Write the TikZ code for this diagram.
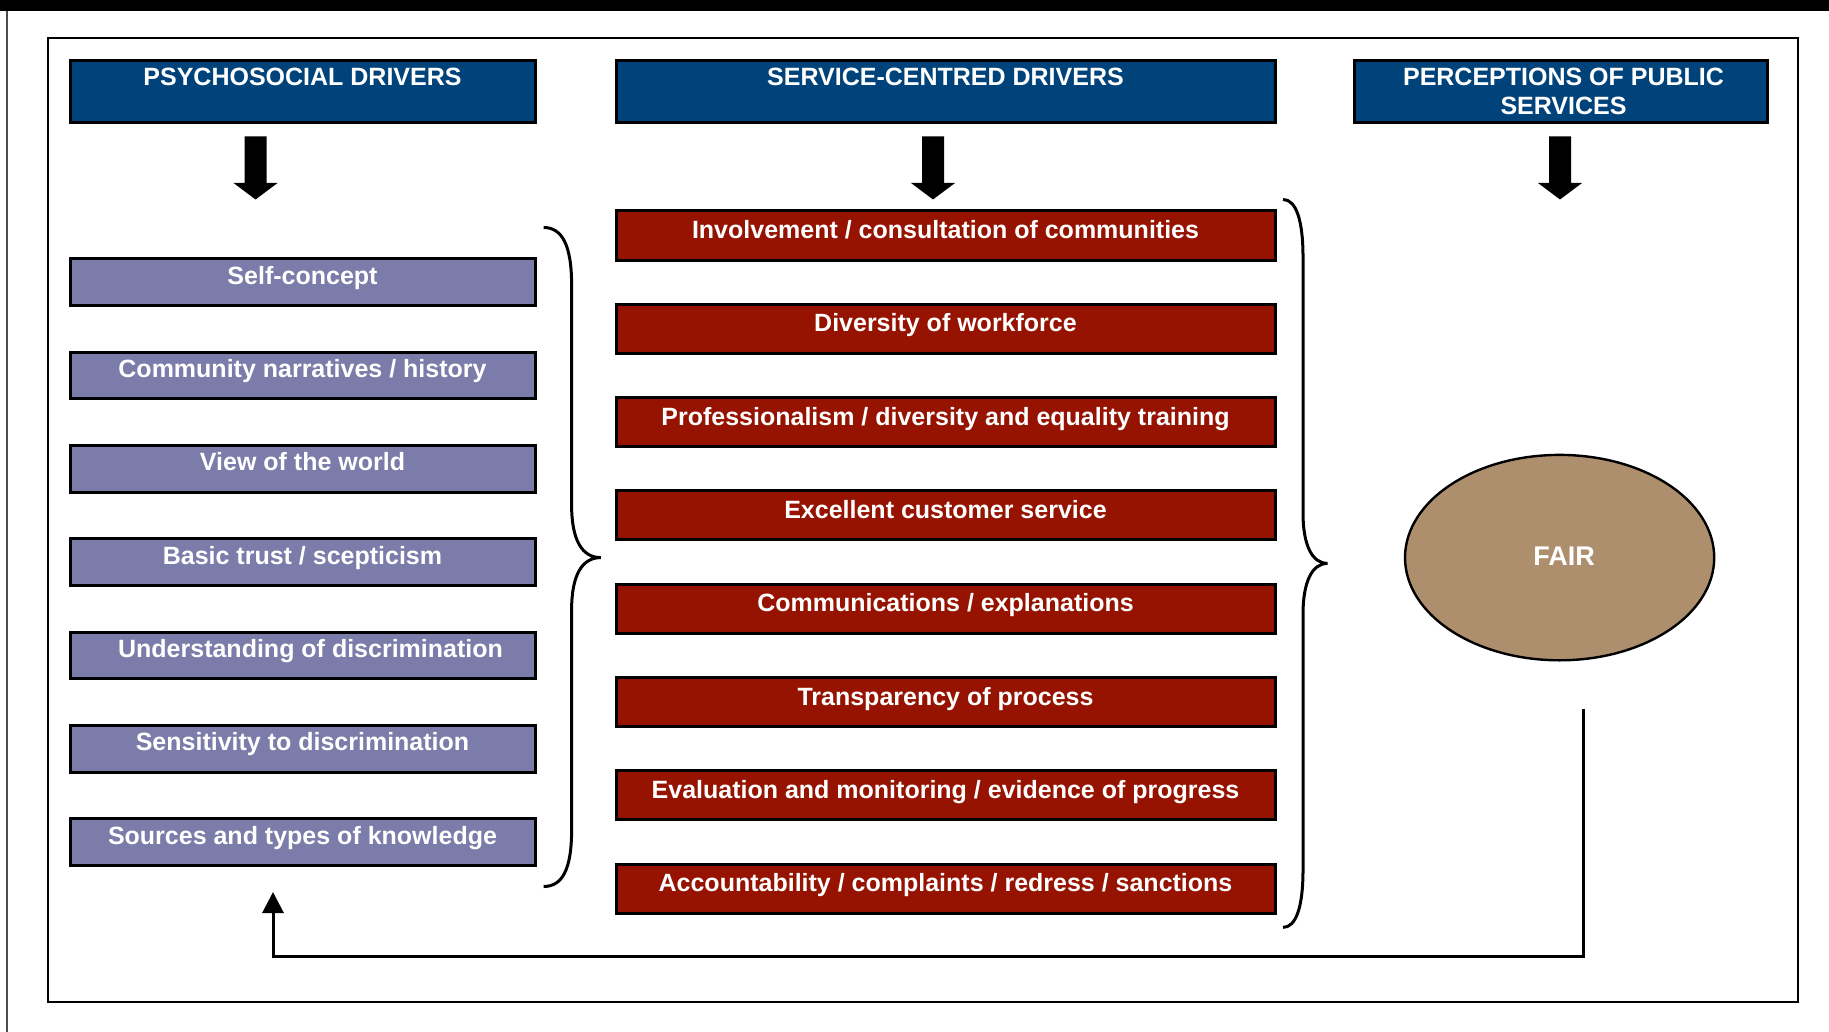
\documentclass[tikz,border=0pt]{standalone}
\usepackage{fontspec}
\setmainfont{Liberation Sans}
\usetikzlibrary{arrows.meta,shapes.geometric}
\definecolor{headblue}{RGB}{0,67,122}
\definecolor{psychpurple}{RGB}{123,124,169}
\definecolor{servred}{RGB}{149,19,0}
\definecolor{fairtan}{RGB}{174,143,109}
\begin{document}
\begin{tikzpicture}[x=0.5pt,y=-0.5pt]
        \tikzstyle{boxtext}=[text=white,font=\bfseries\fontsize{12.5}{14.6}\selectfont,inner sep=0pt]
        \tikzstyle{header}=[rectangle,boxtext,draw=black,line width=1.5pt,fill=headblue,align=center,minimum height=30.9pt]
        \tikzstyle{psych}=[rectangle,boxtext,draw=black,line width=1.5pt,fill=psychpurple,minimum width=232.5pt,minimum height=23.35pt,text height=9pt,text depth=7pt]
        \tikzstyle{serv}=[rectangle,boxtext,draw=black,line width=1.5pt,fill=servred,minimum width=329.5pt,minimum height=24.5pt,text height=9.5pt,text depth=6.5pt]
        \tikzstyle{brace}=[draw, line width=1.5pt]
        \tikzstyle{feedback}=[draw, line width=1.5pt, -{Triangle[width=10.5pt,length=10.5pt]}]
        \useasboundingbox (0,0) rectangle (1829,1032);
        % page frame
        \fill[black] (0,0) rectangle (1829,11);
        \draw[line width=0.6pt,black!70] (7,11) -- (7,1032);
        \draw[line width=1pt] (47.8,38.5) rectangle (1797.6,1002);
        % headers
        \node [header,minimum width=232.5pt] (hpsy) at (302.5,91.6) {PSYCHOSOCIAL DRIVERS\\\mbox{}};
        \node [header,minimum width=329.5pt] (hserv) at (945.5,91.6) {SERVICE-CENTRED DRIVERS\\\mbox{}};
        \node [header,minimum width=206.5pt] (hperc) at (1560.5,91.6) {\hspace*{3pt}PERCEPTIONS OF PUBLIC\\\hspace*{3pt}SERVICES};
        \foreach \x in {255.5,933,1560}
                \fill[black] (\x-11,136.5) -- (\x+11,136.5) -- (\x+11,183) -- (\x+22,183) -- (\x,199.5) -- (\x-22,183) -- (\x-11,183) -- cycle;
        % psychosocial drivers
        \node [psych] (p1) at (302.5,282.3) {Self-concept};
        \node [psych] (p2) at (302.5,375.6) {Community narratives / history};
        \node [psych] (p3) at (302.5,468.9) {View of the world};
        \node [psych] (p4) at (302.5,562.2) {Basic trust / scepticism};
        \node [psych] (p5) at (302.5,655.5) {\hspace*{8pt}Understanding of discrimination};
        \node [psych] (p6) at (302.5,748.8) {Sensitivity to discrimination};
        \node [psych] (p7) at (302.5,842.1) {Sources and types of knowledge};
        % service-centred drivers
        \node [serv] (s1) at (945.5,235.5) {Involvement / consultation of communities};
        \node [serv] (s2) at (945.5,328.8) {Diversity of workforce};
        \node [serv] (s3) at (945.5,422.1) {Professionalism / diversity and equality training};
        \node [serv] (s4) at (945.5,515.4) {Excellent customer service};
        \node [serv] (s5) at (945.5,608.7) {Communications / explanations};
        \node [serv] (s6) at (945.5,702) {Transparency of process};
        \node [serv] (s7) at (945.5,795.3) {Evaluation and monitoring / evidence of progress};
        \node [serv] (s8) at (945.5,888.6) {Accountability / complaints / redress / sanctions};
        % braces
        \path[brace] (543.6,227.5) .. controls (562,227.5) and (571.6,245) .. (571.6,285) -- (571.6,505) .. controls (571.6,540) and (582,557.6) .. (600.7,557.6) .. controls (582,557.6) and (571.6,575) .. (571.6,610) -- (571.6,830) .. controls (571.6,870) and (562,886.5) .. (543.6,886.5);
        \path[brace] (1283,199.5) .. controls (1296,199.5) and (1303,220) .. (1303,257) -- (1303,513) .. controls (1303,545) and (1312,563.4) .. (1327.5,563.4) .. controls (1312,563.4) and (1303,582) .. (1303,614) -- (1303,870) .. controls (1303,907) and (1296,927.4) .. (1283,927.4);
        % perception
        \node [ellipse,draw=black,line width=1.2pt,fill=fairtan,minimum width=154.6pt,minimum height=102.7pt,text=white,font=\bfseries\fontsize{13.5}{16}\selectfont] (fair) at (1559.6,557.6) {\hspace*{4.5pt}\raisebox{1.5pt}{FAIR}};
        \coordinate (loopstart) at (1583,709);
        \coordinate (loopend) at (273,892);
        \path[feedback] (loopstart) -- ++(0,247.5) -| (loopend);
\end{tikzpicture}
\end{document}
